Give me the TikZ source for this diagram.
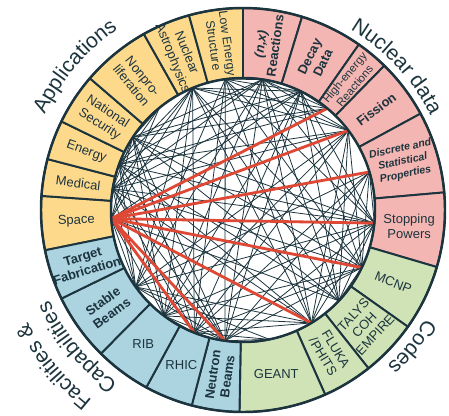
\documentclass[tikz,border=0pt]{standalone}
\usepackage{fontspec}
\setmainfont{Liberation Sans}
\usetikzlibrary{decorations.text}

\definecolor{appyellow}{RGB}{253,217,140}
\definecolor{datapink}{RGB}{244,182,178}
\definecolor{codegreen}{RGB}{207,227,182}
\definecolor{facblue}{RGB}{172,211,224}
\definecolor{ringline}{RGB}{28,52,62}
\definecolor{chordred}{RGB}{222,72,52}

\newcommand{\segfont}{\fontsize{7.4}{8.4}\selectfont}
\newcommand{\grpfont}{\fontsize{12}{14}\selectfont}
\def\ri{2.64}
\def\ro{4.04}
\def\rl{3.34}

\tikzset{
  sector/.style={draw=ringline, line width=1.1pt},
  seglabel/.style={align=center, text=ringline, inner sep=0pt},
  chord/.style={draw=ringline, line width=0.45pt},
  redchord/.style={draw=chordred, line width=1.6pt},
  rim/.style={draw=ringline, line width=1.4pt},
  grplabel/.style={decorate, decoration={text along path, text align=center, text color=ringline, text={#1}}}
}

\begin{document}
\begin{tikzpicture}
        \useasboundingbox (-4.86,-4.1) rectangle (4.12,4.2);

        % ring sectors with labels, chord ends on the inner circle
        \foreach \a/\b/\col/\rot/\fnt/\txt [count=\n] in {
            176/191.5/appyellow/2/{}/{Space},
            165.4/176/appyellow/-7/{}/{Medical},
            154/165.4/appyellow/-20/{}/{Energy},
            139.3/154/appyellow/-33/{}/{National\\Security},
            119.4/139.3/appyellow/-51/{}/{Nonpro-\\liferation},
            105.5/119.4/appyellow/-68/{}/{Nuclear\\Astrophysics},
            90/105.5/appyellow/-82/{\fontsize{7}{8}\selectfont}/{Low Energy\\Structure},
            73/90/datapink/82/{\bfseries}/{\textit{(n,x)}\\Reactions},
            55/73/datapink/64/{\bfseries}/{Decay\\Data},
            45.6/55/datapink/50/{\fontsize{6.4}{7.4}\selectfont}/{High-energy\\Reactions},
            28.5/45.6/datapink/37/{\bfseries}/{Fission},
            5/28.5/datapink/12/{\bfseries\itshape\fontsize{6}{7.4}\selectfont}/{Discrete and\\Statistical\\Properties},
            -16.4/5/datapink/0/{}/{Stopping\\Powers},
            -35.3/-16.4/codegreen/-22/{}/{MCNP},
            -51.6/-35.3/codegreen/47/{}/{TALYS\\COH\\EMPIRE},
            -66/-51.6/codegreen/-59/{}/{FLUKA\\/PHITS},
            -91/-66/codegreen/0/{}/{GEANT},
            -104.7/-91/facblue/82/{\bfseries}/{Neutron\\Beams},
            -118.6/-104.7/facblue/0/{}/{RHIC},
            -134.7/-118.6/facblue/0/{}/{RIB},
            -154/-134.7/facblue/36/{\bfseries}/{Stable\\Beams},
            -168.5/-154/facblue/17/{\bfseries}/{Target\\Fabrication}}{
            \filldraw[sector, fill=\col] (\a:\ro) arc (\a:\b:\ro) -- (\b:\ri) arc (\b:\a:\ri) -- cycle;
            \pgfmathsetmacro\m{(\a+\b)/2}
            \node[seglabel, rotate=\rot, font=\segfont\fnt] (s\n) at (\m:\rl) {\txt};
            \coordinate (n\n) at (\m:\ri);
        }

        \fill[white] (0,0) circle (\ri);

        % links between the topics
        \foreach \i in {1,...,21}{
            \pgfmathtruncatemacro\s{\i+1}
            \foreach \j in {\s,...,22}{
                \pgfmathtruncatemacro\k{mod(3*\i+5*\j+\i*\j,5)}
                \ifnum\k>1 \draw[chord] (n\i) -- (n\j); \fi
            }
        }
        \foreach \j in {10,11,12,13,14,16,18,19}
            \draw[redchord] (n1) -- (n\j);

        \draw[rim] (0,0) circle (\ri);
        \draw[rim] (0,0) circle (\ro);

        % group names round the ring
        \path[grplabel={|\grpfont|Applications}] (169.5:4.4) arc (169.5:109.5:4.4);
        \path[grplabel={|\grpfont|Nuclear data}] (73:4.2) arc (73:13:4.2);
        \path[grplabel={|\grpfont|Codes}] (-9:4.25) arc (-9:-69:4.25);
        \path[grplabel={|\grpfont|Facilities {\&}}] (249.6:4.86) arc (249.6:189.6:4.86);
        \path[grplabel={|\grpfont|Capabilities}] (249.6:4.28) arc (249.6:189.6:4.28);
\end{tikzpicture}
\end{document}
